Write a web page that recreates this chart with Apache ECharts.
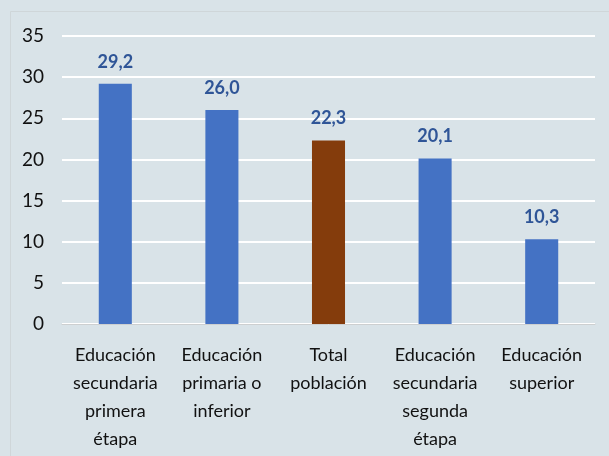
<!DOCTYPE html>
<html lang="es">
<head>
    <meta charset="UTF-8">
    <title>Educación</title>
    <style>
        body {
            margin: 0;
            padding: 0;
            background: #d9e3e8;
        }
        #chart {
            width: 609px;
            height: 456px;
        }
    </style>
</head>
<body>
<div id="chart"></div>
<script src="https://cdn.jsdelivr.net/npm/echarts@6/dist/echarts.min.js"></script>
<script>
    const categories = [
        "Educación\nsecundaria\nprimera\nétapa",
        "Educación\nprimaria o\ninferior",
        "Total\npoblación",
        "Educación\nsecundaria\nsegunda\nétapa",
        "Educación\nsuperior"
    ];
    const values = [29.2, 26.0, 22.3, 20.1, 10.3];
    const barColors = ["#4472c4", "#4472c4", "#843c0c", "#4472c4", "#4472c4"];

    const chart = echarts.init(document.getElementById("chart"));

    const option = {
        backgroundColor: "#d9e3e8",
        animation: false,
        graphic: [{
            type: "rect",
            shape: {x: 10.5, y: 11.5, width: 640, height: 460},
            style: {fill: "none", stroke: "#cfd6d9", lineWidth: 1}
        }],
        grid: {
            left: 62,
            right: 14,
            top: 36,
            bottom: 132
        },
        xAxis: {
            type: "category",
            data: categories,
            axisTick: {show: false},
            axisLine: {lineStyle: {color: "#cdcfd0", width: 1}},
            axisLabel: {
                color: "#111111",
                fontFamily: "Lato",
                fontSize: 18,
                lineHeight: 28,
                margin: 17,
                interval: 0
            }
        },
        yAxis: {
            type: "value",
            min: 0,
            max: 35,
            interval: 5,
            axisLine: {show: false},
            axisTick: {show: false},
            splitLine: {lineStyle: {color: "#ffffff", width: 2}},
            axisLabel: {
                color: "#111111",
                fontFamily: "Lato",
                fontSize: 19,
                margin: 18
            }
        },
        series: [{
            type: "bar",
            barWidth: "31%",
            data: values.map((v, i) => ({value: v, itemStyle: {color: barColors[i]}})),
            label: {
                show: true,
                position: "top",
                distance: 13,
                color: "#2f5597",
                fontFamily: "Lato",
                fontWeight: "bold",
                fontSize: 18,
                formatter: p => p.value.toFixed(1).replace(".", ",")
            }
        }]
    };

    chart.setOption(option);
</script>
</body>
</html>
